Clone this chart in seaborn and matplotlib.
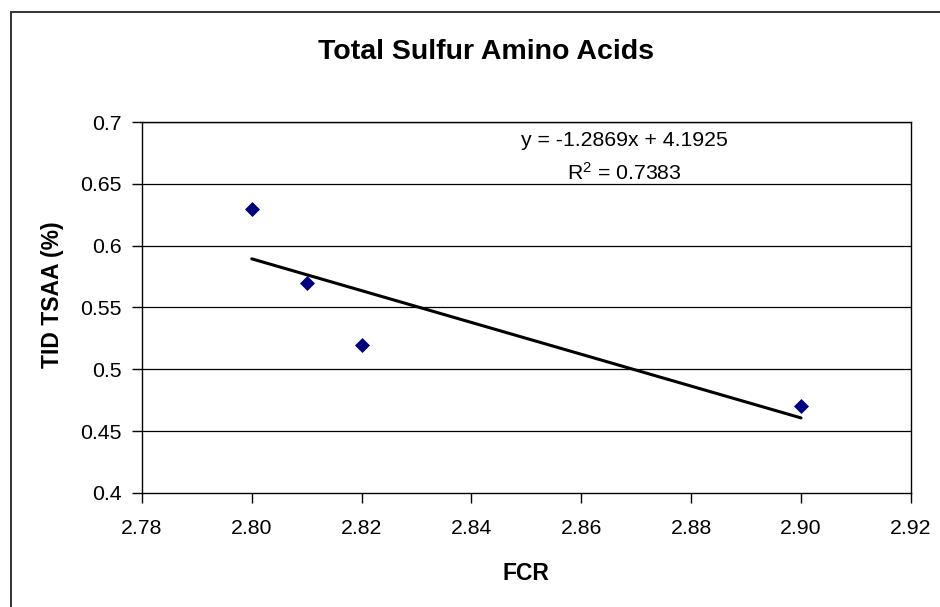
import matplotlib
matplotlib.use("Agg")
import matplotlib.pyplot as plt
from matplotlib.patches import Rectangle
import seaborn as sns
import pandas as pd

# data
fcr = [2.80, 2.81, 2.82, 2.90]
tid_tsaa = [0.63, 0.57, 0.52, 0.47]
x_ticks = [2.78, 2.80, 2.82, 2.84, 2.86, 2.88, 2.90, 2.92]
y_ticks = [0.4, 0.45, 0.5, 0.55, 0.6, 0.65, 0.7]
y_tick_labels = ["0.4", "0.45", "0.5", "0.55", "0.6", "0.65", "0.7"]
eq_text = "y = -1.2869x + 4.1925"
r2_text = "$\\mathregular{R^2}$ = 0.7383"

df = pd.DataFrame({"FCR": fcr, "TID TSAA (%)": tid_tsaa})

sns.set_style("white")
plt.rcParams["font.family"] = ["Liberation Sans", "DejaVu Sans"]
plt.rcParams["text.color"] = "black"
plt.rcParams["axes.labelcolor"] = "black"

fig = plt.figure(figsize=(9.4, 6.07), dpi=100)
ax = fig.add_axes([0.151, 0.188, 0.818, 0.611])

# chart area border: only top and left edges fall inside the image
fig.patches.append(Rectangle((11 / 940, -0.05), 1.0, 1.05 - 12 / 607,
                             transform=fig.transFigure, fill=False,
                             edgecolor="#333333", linewidth=1.4))

for y in y_ticks[1:]:
    ax.axhline(y, color="black", linewidth=0.9, zorder=0)

sns.regplot(data=df, x="FCR", y="TID TSAA (%)", ax=ax, scatter=False, ci=None,
            line_kws={"color": "black", "linewidth": 2.2})
sns.scatterplot(data=df, x="FCR", y="TID TSAA (%)", ax=ax, marker="D", s=50,
                color="#000080", edgecolor="#000080", zorder=3)

ax.set_xlim(2.78, 2.92)
ax.set_ylim(0.4, 0.7)
ax.set_xticks(x_ticks)
ax.set_xticklabels([f"{v:.2f}" for v in x_ticks])
ax.set_yticks(y_ticks)
ax.set_yticklabels(y_tick_labels)
ax.tick_params(axis="both", direction="out", length=7, width=1, colors="black",
               labelsize=15.3, bottom=True, left=True)
ax.tick_params(axis="x", pad=11.5)
ax.tick_params(axis="y", pad=7.5)

for side in ["left", "bottom", "right", "top"]:
    ax.spines[side].set_visible(True)
    ax.spines[side].set_color("black")
    ax.spines[side].set_linewidth(1)

ax.set_xlabel("FCR", fontsize=16.5, fontweight="bold")
ax.set_ylabel("TID TSAA (%)", fontsize=16.5, fontweight="bold")
ax.xaxis.set_label_coords(0.5, -0.186)
ax.yaxis.set_label_coords(-0.101, 0.534)

fig.text(0.517, 1 - 52 / 607, "Total Sulfur Amino Acids", ha="center", va="center",
         fontsize=20.5, fontweight="bold")

ax.text(0.628, 0.951, eq_text, transform=ax.transAxes, ha="center", va="center", fontsize=15.3)
ax.text(0.628, 0.862, r2_text, transform=ax.transAxes, ha="center", va="center", fontsize=15.3)

fig.savefig("out.png", dpi=100)
